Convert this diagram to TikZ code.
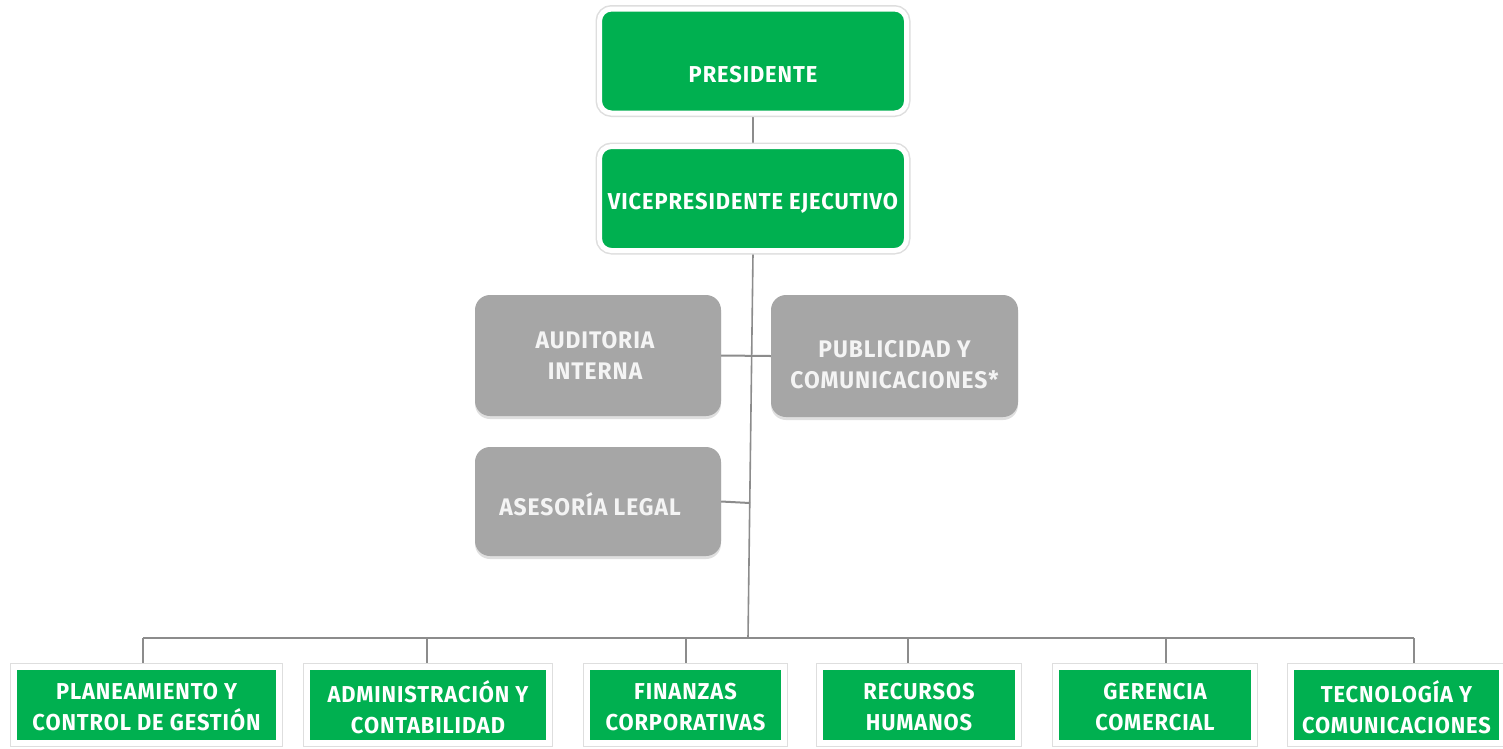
\documentclass[tikz,border=0pt]{standalone}
\usepackage{fontspec}
\setmainfont{Fira Sans}[FakeStretch=0.95, LetterSpace=4]
\usetikzlibrary{shadows,backgrounds}
\definecolor{offgreen}{HTML}{00B050}
\definecolor{boxgray}{HTML}{A6A6A6}
\definecolor{linegray}{HTML}{8C8C8C}
\definecolor{softwhite}{HTML}{F4F4F4}
\begin{document}
\begin{tikzpicture}[x=1pt,y=-1pt,
  topbox/.style={rectangle, rounded corners=12pt, fill=offgreen, draw=white, line width=5pt,
    minimum width=307pt, minimum height=104pt, inner sep=0pt,
    preaction={draw=black!13, line width=8pt}},
  graybox/.style={rectangle, rounded corners=15pt, fill=boxgray, inner sep=0pt,
    drop shadow={opacity=0.25, shadow xshift=0pt, shadow yshift=-3pt}},
  botbox/.style={rectangle, fill=offgreen, draw=white, line width=6pt, inner sep=0pt,
    minimum height=76pt, preaction={draw=black!13, line width=8pt}},
  toplbl/.style={text=white, font=\fontsize{23}{28}\selectfont\bfseries, align=center, inner sep=0pt},
  lbl/.style={text=white, font=\fontsize{23}{31}\selectfont\bfseries, align=center, inner sep=0pt},
  glbl/.style={text=softwhite, font=\fontsize{24}{31}\selectfont\bfseries, align=center, inner sep=0pt},
  conn/.style={draw=linegray, line width=2pt}]
\useasboundingbox (0,0) rectangle (1503,748);

% top boxes
\node[topbox] (pres) at (753,61) {};
\node[toplbl] (presT) at ([yshift=-14pt]pres.center) {PRESIDENTE};
\node[topbox] (vp) at (753,198.5) {};
\node[toplbl] (vpT) at ([yshift=-5pt]vp.center) {VICEPRESIDENTE EJECUTIVO};

% gray staff boxes
\node[graybox, minimum width=246pt, minimum height=121pt] (aud) at (598,355.5) {};
\node[glbl] (audT) at ([xshift=-3pt]aud.center) {AUDITORIA\\INTERNA};
\node[graybox, minimum width=247pt, minimum height=122pt] (pub) at (894.5,356) {};
\node[glbl] (pubT) at ([yshift=-9pt]pub.center) {PUBLICIDAD Y\\COMUNICACIONES*};
\node[graybox, minimum width=246pt, minimum height=109pt] (ase) at (598,501.5) {};
\node[glbl] (aseT) at ([xshift=-8pt,yshift=-3pt]ase.center) {ASESORÍA LEGAL};

% bottom boxes
\node[botbox, minimum width=265pt] (b1) at (146.5,705) {};
\node[lbl] (b1T) at ([yshift=-2pt]b1.center) {PLANEAMIENTO Y\\CONTROL DE GESTIÓN};
\node[botbox, minimum width=242pt] (b2) at (428,705) {};
\node[lbl] (b2T) at ([yshift=-2pt]b2.center) {ADMINISTRACIÓN Y\\CONTABILIDAD};
\node[botbox, minimum width=197pt] (b3) at (685.5,705) {};
\node[lbl] (b3T) at ([yshift=-2pt]b3.center) {FINANZAS\\CORPORATIVAS};
\node[botbox, minimum width=198pt] (b4) at (919,705) {};
\node[lbl] (b4T) at ([yshift=-2pt]b4.center) {RECURSOS\\HUMANOS};
\node[botbox, minimum width=198pt] (b5) at (1155,705) {};
\node[lbl] (b5T) at ([yshift=-2pt]b5.center) {GERENCIA\\COMERCIAL};
\node[botbox, minimum width=211pt] (b6) at (1396.5,705) {};
\node[lbl] (b6T) at ([yshift=-2pt]b6.center) {TECNOLOGÍA Y\\COMUNICACIONES};

% connector points
\coordinate (jb) at (748,638);
\coordinate (ja) at (750,503);
\coordinate (s1) at (143,638);
\coordinate (s2) at (427,638);
\coordinate (s3) at (686,638);
\coordinate (s4) at (908,638);
\coordinate (s5) at (1166,638);
\coordinate (s6) at (1414,638);

% connectors
\begin{pgfonlayer}{background}
\fill[white] (0,0) rectangle (1503,748);
\draw[conn] (pres.south) -- (vp.north);
\draw[conn, line width=1.6pt] (vp.south) -- (jb);
\draw[conn] (aud.east) -- (pub.west);
\draw[conn] (ase.east) -- (ja);
\draw[conn] (s1) -- (s6);
\draw[conn] (s1) -- (s1 |- b1.north);
\draw[conn] (s2) -- (s2 |- b2.north);
\draw[conn] (s3) -- (s3 |- b3.north);
\draw[conn] (s4) -- (s4 |- b4.north);
\draw[conn] (s5) -- (s5 |- b5.north);
\draw[conn] (s6) -- (s6 |- b6.north);
\end{pgfonlayer}
\end{tikzpicture}
\end{document}
